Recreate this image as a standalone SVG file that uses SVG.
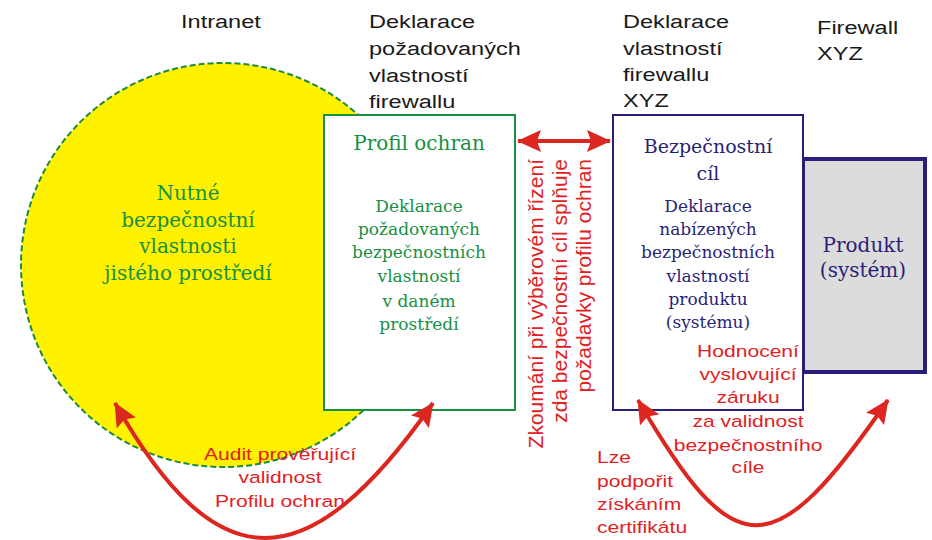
<svg xmlns="http://www.w3.org/2000/svg" width="932" height="540" viewBox="0 0 932 540">
<style>
.sans{font-family:"Liberation Sans",Arial,sans-serif;}
.serif{font-family:"DejaVu Serif",serif;text-anchor:middle;}
.lbl{fill:#1a1a1a;font-size:19px;}
.red{fill:#e0221f;font-size:17px;}
.vert{fill:#e0221f;font-size:21px;text-anchor:end;}
.grn{fill:#179043;}
.nav{fill:#2a1f78;}
.arrow{fill:none;stroke:#dc2620;stroke-width:4;}
</style>
<defs>
<marker id="ah" viewBox="0 0 24 22" refX="23" refY="11" markerWidth="24" markerHeight="22" markerUnits="userSpaceOnUse" orient="auto-start-reverse">
<path d="M0,0 L24,11 L0,22 L4,11 z" fill="#dc2620"/>
</marker>
</defs>
<rect width="932" height="540" fill="#ffffff"/>

<g id="intranet">
<circle cx="223" cy="265" r="202" fill="#fff200" stroke="#1e8a3e" stroke-width="2" stroke-dasharray="6 3"/>
<g class="serif grn" font-size="20">
<text x="188" y="200">Nutné</text>
<text x="188" y="227">bezpečnostní</text>
<text x="188" y="253">vlastnosti</text>
<text x="188" y="280">jistého prostředí</text>
</g>
</g>

<g id="profil">
<rect x="324" y="115" width="191" height="295" fill="#ffffff" stroke="#179043" stroke-width="2"/>
<g class="serif grn">
<text x="419" y="150" font-size="20">Profil ochran</text>
<g font-size="17">
<text x="419" y="212">Deklarace</text>
<text x="419" y="235">požadovaných</text>
<text x="419" y="258">bezpečnostních</text>
<text x="419" y="282">vlastností</text>
<text x="419" y="307">v daném</text>
<text x="419" y="330">prostředí</text>
</g>
</g>
</g>

<g id="produkt">
<rect x="803" y="159" width="122" height="213" fill="#dcdcdc" stroke="#2a1f78" stroke-width="4"/>
<g class="serif nav" font-size="20">
<text x="863" y="252">Produkt</text>
<text x="863" y="277">(systém)</text>
</g>
</g>

<g id="cil">
<rect x="613" y="115" width="190" height="295" fill="#ffffff" stroke="#2a1f78" stroke-width="2"/>
<g class="serif nav">
<text x="708" y="153" font-size="19">Bezpečnostní</text>
<text x="708" y="180" font-size="19">cíl</text>
<g font-size="17">
<text x="708" y="212">Deklarace</text>
<text x="708" y="235">nabízených</text>
<text x="708" y="258">bezpečnostních</text>
<text x="708" y="282">vlastností</text>
<text x="708" y="305">produktu</text>
<text x="708" y="328">(systému)</text>
</g>
</g>
</g>

<g id="connectors">
<line class="arrow" x1="518" y1="141" x2="610" y2="141" marker-start="url(#ah)" marker-end="url(#ah)"/>
<path class="arrow" d="M115,403 C217,583 307,583 433,403" marker-start="url(#ah)" marker-end="url(#ah)"/>
<path class="arrow" d="M638,400 C735,567 773,567 888,400" marker-start="url(#ah)" marker-end="url(#ah)"/>
</g>

<g id="labels" class="sans">
<g class="lbl" transform="translate(181,0) scale(1.24,1)"><text x="0" y="28">Intranet</text></g>
<g class="lbl" transform="translate(369,0) scale(1.24,1)">
<text x="0" y="28">Deklarace</text>
<text x="0" y="55">požadovaných</text>
<text x="0" y="82">vlastností</text>
<text x="0" y="108">firewallu</text>
</g>
<g class="lbl" transform="translate(623,0) scale(1.24,1)">
<text x="0" y="28">Deklarace</text>
<text x="0" y="55">vlastností</text>
<text x="0" y="81">firewallu</text>
<text x="0" y="107">XYZ</text>
</g>
<g class="lbl" transform="translate(817,0) scale(1.24,1)">
<text x="0" y="34">Firewall</text>
<text x="0" y="60">XYZ</text>
</g>
<g class="red" text-anchor="middle" transform="translate(280,0) scale(1.24,1)">
<text x="0" y="460">Audit prověřující</text>
<text x="0" y="483">validnost</text>
<text x="0" y="507">Profilu ochran</text>
</g>
<g class="red" text-anchor="middle" transform="translate(748,0) scale(1.24,1)">
<text x="0" y="357">Hodnocení</text>
<text x="0" y="380">vyslovující</text>
<text x="0" y="403">záruku</text>
<text x="0" y="427">za validnost</text>
<text x="0" y="451">bezpečnostního</text>
<text x="0" y="473">cíle</text>
</g>
<g class="red" transform="translate(597,0) scale(1.24,1)">
<text x="0" y="463">Lze</text>
<text x="0" y="487">podpořit</text>
<text x="0" y="510">získáním</text>
<text x="0" y="533">certifikátu</text>
</g>
<g class="vert">
<text transform="translate(543,159) rotate(-90)">Zkoumání při výběrovém řízení</text>
<text transform="translate(567,159) rotate(-90)">zda bezpečnostní cíl splňuje</text>
<text transform="translate(591,159) rotate(-90)">požadavky profilu ochran</text>
</g>
</g>
</svg>
